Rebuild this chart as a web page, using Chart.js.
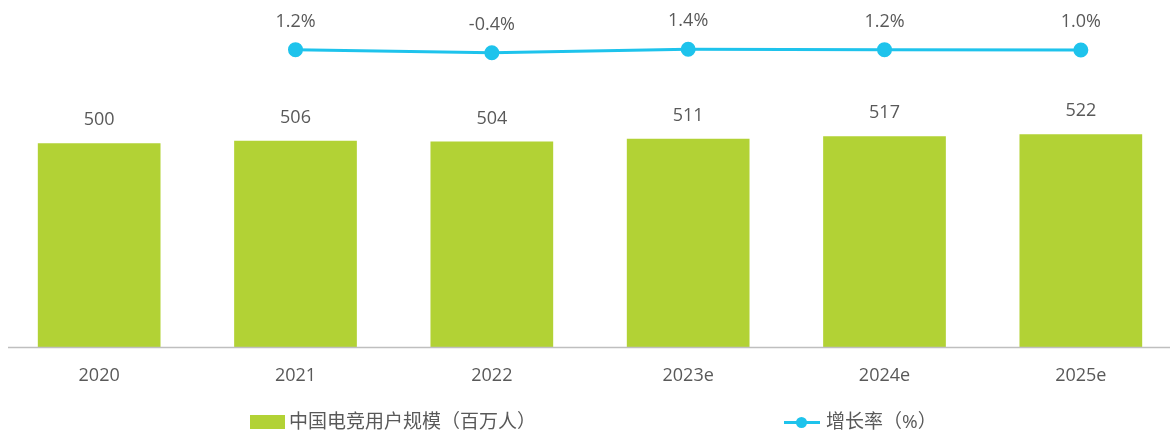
<!DOCTYPE html>
<html>
<head>
<meta charset="utf-8">
<script src="https://cdn.jsdelivr.net/npm/chart.js@4.4.0/dist/chart.umd.min.js"></script>
<style>
    body { margin: 0; overflow: hidden; background: #fff; width: 1170px; height: 432px; position: relative; }
    #wrap { position: absolute; left: -8px; top: 0; width: 1196px; height: 432px; }
    .legenda { position: absolute; top: 408px; font-family: 'Open Sans', 'Noto Sans CJK SC', sans-serif; font-size: 19px; color: #595959; line-height: 26px; white-space: nowrap; }
    .caixa { display: inline-block; width: 35px; height: 14px; background: #b2d235; vertical-align: -1px; margin-right: 4px; }
    .linha { display: inline-block; position: relative; width: 36px; height: 14px; vertical-align: -1px; margin-right: 6px; }
    .linha:before { content: ''; position: absolute; left: 0; right: 0; top: 6px; height: 3px; background: #1ec3ec; }
    .linha:after { content: ''; position: absolute; left: 12px; top: 2px; width: 11px; height: 11px; border-radius: 50%; background: #1ec3ec; }
</style>
</head>
<body>
<div id="wrap"><canvas id="grafico" width="1196" height="432"></canvas></div>
<div class="legenda" style="left:250px"><span class="caixa"></span>中国电竞用户规模（百万人）</div>
<div class="legenda" style="left:784px"><span class="linha"></span>增长率（%）</div>
<script>
var anos = ['2020', '2021', '2022', '2023e', '2024e', '2025e'];
var usuarios = [500, 506, 504, 511, 517, 522];
var crescimento = [null, 1.2, -0.4, 1.4, 1.2, 1.0];

var corTexto = '#595959';
var fonte = "'Open Sans', 'Noto Sans CJK SC', sans-serif";

// rótulos de valor em cima das barras e dos pontos
var pluginRotulos = {
    id: 'rotulos',
    afterDatasetsDraw: function (chart) {
        var ctx = chart.ctx;
        ctx.save();
        ctx.font = '18px ' + fonte;
        ctx.fillStyle = corTexto;
        ctx.textAlign = 'center';
        ctx.textBaseline = 'middle';
        chart.data.datasets.forEach(function (ds, i) {
            var meta = chart.getDatasetMeta(i);
            meta.data.forEach(function (el, j) {
                var v = ds.data[j];
                if (v === null) return;
                if (ds.type === 'line') {
                    ctx.fillText(v.toFixed(1) + '%', el.x, el.y - 28);
                } else {
                    ctx.fillText(String(v), el.x, el.y - 23);
                }
            });
        });
        ctx.restore();
    }
};

// linha do eixo x começando um pouco depois da borda
var pluginEixo = {
    id: 'eixo',
    afterDatasetsDraw: function (chart) {
        var ctx = chart.ctx;
        var y = chart.scales.x.top;
        ctx.save();
        ctx.strokeStyle = '#bfbfbf';
        ctx.lineWidth = 1.5;
        ctx.beginPath();
        ctx.moveTo(16, y);
        ctx.lineTo(chart.width, y);
        ctx.stroke();
        ctx.restore();
    }
};

var graficoUsuarios = new Chart(document.getElementById('grafico'), {
    data: {
        labels: anos,
        datasets: [{
            type: 'line',
            label: '增长率（%）',
            data: crescimento,
            yAxisID: 'y2',
            borderColor: '#1ec3ec',
            backgroundColor: '#1ec3ec',
            borderWidth: 3,
            pointRadius: 6,
            pointHoverRadius: 6,
            order: 0
        }, {
            type: 'bar',
            label: '中国电竞用户规模（百万人）',
            data: usuarios,
            yAxisID: 'y',
            backgroundColor: '#b2d235',
            barPercentage: 1,
            categoryPercentage: 0.625,
            order: 1
        }]
    },
    options: {
        responsive: false,
        animation: false,
        layout: { padding: { top: 10, bottom: 27, left: 0, right: 0 } },
        plugins: {
            legend: { display: false },
            tooltip: { enabled: false }
        },
        scales: {
            x: {
                grid: { display: false, drawTicks: false },
                border: { display: false },
                ticks: { color: corTexto, font: { size: 18, family: fonte }, padding: 18 }
            },
            y: { display: false, min: 0, max: 826 },
            y2: { display: false, min: -155, max: 22 }
        }
    },
    plugins: [pluginRotulos, pluginEixo]
});
</script>
</body>
</html>
